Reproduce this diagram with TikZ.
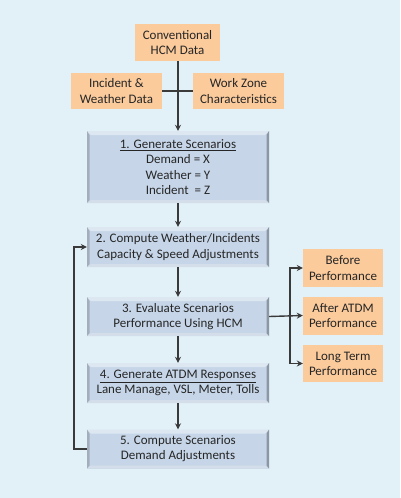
\documentclass[tikz,border=0pt]{standalone}
\usepackage{fontspec}
\setmainfont{Carlito}
\usetikzlibrary{arrows.meta}
\definecolor{bg}{HTML}{E2F0F7}
\definecolor{peach}{HTML}{FBCB9C}
\definecolor{bluefill}{HTML}{C6D6E8}
\definecolor{bevtop}{HTML}{DDE7F2}
\definecolor{bevleft}{HTML}{A3AEBB}
\definecolor{bevright}{HTML}{8C97A4}
\definecolor{bevbot}{HTML}{D3DEEA}
\definecolor{linec}{HTML}{3A3A3A}
\definecolor{txt}{HTML}{262626}
\tikzset{
  every node/.style={font=\fontsize{13}{15.2}\selectfont, text=txt, align=center, inner sep=0pt},
  orangebox/.style={fill=peach, minimum width=#1},
  bluebox/.style={fill=bluefill, minimum width=182pt,
    path picture={
      \fill[bevtop] (path picture bounding box.north west) -- (path picture bounding box.north east)
        -- ([xshift=-4pt,yshift=-4pt]path picture bounding box.north east) -- ([xshift=4pt,yshift=-4pt]path picture bounding box.north west) -- cycle;
      \fill[bevbot] (path picture bounding box.south west) -- (path picture bounding box.south east)
        -- ([xshift=-4pt,yshift=3pt]path picture bounding box.south east) -- ([xshift=4pt,yshift=3pt]path picture bounding box.south west) -- cycle;
      \fill[bevleft] (path picture bounding box.north west) -- ([xshift=2.5pt,yshift=-4pt]path picture bounding box.north west)
        -- ([xshift=2.5pt,yshift=3pt]path picture bounding box.south west) -- (path picture bounding box.south west) -- cycle;
      \fill[bevright] (path picture bounding box.north east) -- ([xshift=-2.5pt,yshift=-4pt]path picture bounding box.north east)
        -- ([xshift=-2.5pt,yshift=3pt]path picture bounding box.south east) -- (path picture bounding box.south east) -- cycle;
    }},
  conn/.style={draw=linec, line width=1.4pt},
  arr/.style={conn, -{Stealth[length=6pt,width=6pt]}}
}
\begin{document}
\begin{tikzpicture}[x=1pt,y=1pt]
\fill[bg] (0,0) rectangle (400,-498);
\useasboundingbox (0,0) rectangle (400,-498);

\node[orangebox=85pt, minimum height=37pt] (conv) at (177.5,-42.5) {Conventional\\HCM Data};
\node[orangebox=91pt, minimum height=36pt] (inc) at (116.5,-91) {Incident \&\\Weather Data};
\node[orangebox=91pt, minimum height=36pt] (wz) at (238.5,-91) {Work Zone\\Characteristics};

\node[bluebox, minimum height=72pt] (s1) at (178,-167) {\fontsize{13}{15.8}\selectfont\underline{1. Generate Scenarios}\\Demand = X\\Weather = Y\\Incident \ = Z};
\node[bluebox, minimum height=40pt] (s2) at (178,-247) {2. Compute Weather/Incidents\\Capacity \& Speed Adjustments};
\node[bluebox, minimum height=39pt] (s3) at (178,-316.5) {3. Evaluate Scenarios\\Performance Using HCM};
\node[bluebox, minimum height=40pt] (s4) at (178,-383) {\underline{4. Generate ATDM Responses}\\Lane Manage, VSL, Meter, Tolls};
\node[bluebox, minimum height=39pt] (s5) at (178,-449) {5. Compute Scenarios\\Demand Adjustments};

\node[orangebox=80pt, minimum height=38pt] (bef) at (343,-268) {Before\\Performance};
\node[orangebox=80pt, minimum height=38pt] (aft) at (343,-315.5) {After ATDM\\Performance};
\node[orangebox=80pt, minimum height=37pt] (lt) at (343,-363.5) {Long Term\\Performance};

% input lines
\draw[arr] (conv.south -| s1.north) -- (s1.north);
\draw[conn] (inc.east) -- (wz.west);

% main chain
\draw[arr] (s1) -- (s2);
\draw[arr] (s2) -- (s3);
\draw[arr] (s3) -- (s4);
\draw[arr] (s4) -- (s5);

% feedback
\coordinate (fb) at (74,0);
\draw[arr] (s5.west) -- (s5.west -| fb) |- (s2.west);

% outputs
\coordinate (split) at (290,0);
\draw[arr] (s3.east) -- (aft.west);
\draw[arr] (split |- aft.west) |- (bef.west);
\draw[arr] (split |- aft.west) |- (lt.west);
\end{tikzpicture}
\end{document}
